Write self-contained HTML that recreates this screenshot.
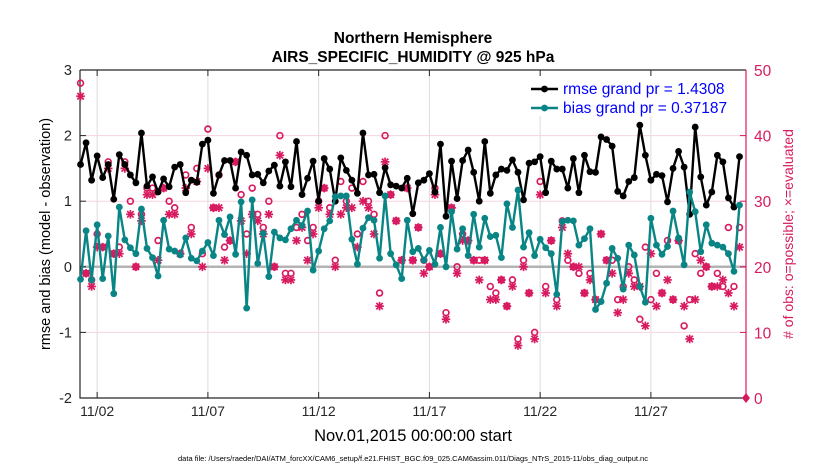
<!DOCTYPE html>
<html><head><meta charset="utf-8"><style>
body{margin:0;background:#fff;}
svg{display:block;font-family:"Liberation Sans",Arial,sans-serif;}
</style></head><body>
<svg id="chart" width="830" height="470" viewBox="0 0 830 470" xmlns="http://www.w3.org/2000/svg">
<rect width="830" height="470" fill="#fff"/>
<g id="grid"></g>
<g id="axes"></g>
<g id="obs"></g>
<g id="lines"></g>
<text x="413" y="43" text-anchor="middle" font-size="15.5" font-weight="bold">Northern Hemisphere</text>
<text x="413" y="62" text-anchor="middle" font-size="15.5" font-weight="bold">AIRS_SPECIFIC_HUMIDITY @ 925 hPa</text>
<text transform="translate(50,234) rotate(-90)" text-anchor="middle" font-size="14.5">rmse and bias (model - observation)</text>
<text transform="translate(793,234) rotate(-90)" text-anchor="middle" font-size="14" fill="#d81b60">#  of obs: o=possible; ×=evaluated</text>
<text x="413" y="441" text-anchor="middle" font-size="16.5">Nov.01,2015 00:00:00 start</text>
<text x="413" y="461" text-anchor="middle" font-size="7.5">data file: /Users/raeder/DAI/ATM_forcXX/CAM6_setup/f.e21.FHIST_BGC.f09_025.CAM6assim.011/Diags_NTrS_2015-11/obs_diag_output.nc</text>
<g id="legend"></g>
</svg>
<script>
const rmse=[1.56,1.89,1.32,1.69,1.36,1.56,1.03,1.71,1.56,1.40,1.28,2.04,1.23,1.37,1.14,1.34,1.22,1.52,1.56,1.13,1.32,1.29,1.87,1.93,1.12,1.40,1.62,1.62,1.20,1.75,1.70,1.40,
1.41,1.28,1.46,1.55,1.23,1.60,1.22,1.91,1.10,1.35,1.61,1.00,1.65,1.49,1.00,1.66,1.47,1.32,1.12,2.04,1.40,1.41,1.13,1.51,1.25,1.23,1.20,1.35,0.81,1.28,
1.32,1.42,1.14,1.87,0.77,1.61,1.04,1.62,1.78,1.44,1.00,1.91,1.12,1.40,1.49,1.47,1.63,1.44,1.02,1.58,1.60,1.68,1.13,1.61,1.49,1.49,1.20,1.65,1.13,1.70,1.45,
1.44,1.98,1.94,1.84,1.15,1.08,1.30,1.36,2.16,1.70,1.32,1.41,1.39,0.99,1.50,1.76,1.52,0.80,2.13,1.37,0.94,1.14,1.70,1.60,1.05,0.91,1.68];
const bias=[-0.19,0.55,-0.20,0.64,-0.18,0.47,-0.41,0.91,0.41,0.29,0.20,0.88,0.28,0.14,-0.14,0.71,0.27,0.24,0.18,0.44,0.13,0.09,0.24,0.37,0.17,0.71,0.49,0.76,0.19,0.99,-0.63,1.02,
0.05,0.51,-0.15,0.53,0.44,0.41,0.58,0.71,0.63,0.85,-0.05,0.24,0.58,0.70,1.07,1.08,1.08,0.42,0.04,0.59,0.75,0.71,0.13,1.08,0.20,0.03,-0.18,0.71,0.23,0.28,
0.10,0.25,0.04,0.60,0.00,0.84,0.27,0.58,0.17,0.80,0.30,0.74,0.46,0.48,0.14,0.96,0.60,1.17,0.30,0.52,0.17,0.42,0.29,0.20,-0.42,0.69,0.71,0.70,0.33,0.43,0.58,
-0.65,-0.53,-0.25,0.28,0.13,-0.34,0.33,0.18,-0.30,-0.54,0.74,0.33,0.19,0.31,0.85,0.44,0.03,1.14,0.84,0.23,0.64,0.36,0.33,0.30,0.20,-0.07,0.94];
const nEval=[46,19,17,23,23,35,22,22,35,28,20,27,31,31,21,32,28,28,22,32,25,33,20,35,29,29,21,24,36,27,22,28,
27,25,28,20,37,18,18,24,26,21,25,29,32,28,20,28,29,29,23,30,29,25,14,36,31,27,21,32,21,26,
19,20,31,22,12,29,19,24,24,21,18,21,15,15,18,14,17,8,20,16,9,31,16,24,14,26,22,20,20,16,18,
15,25,21,19,13,15,19,17,17,11,22,14,16,18,15,24,14,9,15,21,20,17,17,18,16,14,23,0];
const nPoss=[48,19,18,25,23,36,22,23,36,30,20,28,32,32,24,32,30,29,22,34,26,35,22,41,29,34,23,24,36,31,25,32,
28,26,30,20,40,19,19,26,28,24,26,30,32,29,21,33,30,32,25,33,30,28,16,40,31,27,21,32,21,26,
21,20,32,22,13,29,20,25,24,21,21,21,17,16,18,14,18,9,21,16,10,33,17,24,15,27,21,20,19,16,19,
15,25,21,21,15,17,20,18,12,23,15,19,16,24,15,24,11,15,22,19,20,17,19,17,26,17,26,0];
const xTickLabels=["11/02","11/07","11/12","11/17","11/22","11/27"];
const xTickDays=[2,7,12,17,22,27];
const yTicks=[3,2,1,0,-1,-2];
const y2Ticks=[50,40,30,20,10,0];

const L=80,R=746,T=70,B=398;
const xDay=d=>75+(d-1)*22.15;
const xIdx=i=>xDay(1.25+i*0.25);
const yL=v=>T+(3-v)*(B-T)/5;
const yR=v=>T+(50-v)*(B-T)/50;
const NS="http://www.w3.org/2000/svg";
function mk(tag,attrs,parent){const e=document.createElementNS(NS,tag);for(const k in attrs)e.setAttribute(k,attrs[k]);parent.appendChild(e);return e;}
const grid=document.getElementById('grid'),axes=document.getElementById('axes'),obs=document.getElementById('obs'),lines=document.getElementById('lines'),leg=document.getElementById('legend');

xTickDays.forEach((d,i)=>{const x=xDay(d);
 let g=mk('line',{x1:x,x2:x,y1:T,y2:B,stroke:'#dcdcdc','stroke-width':1},grid);
 
 
 let t=mk('line',{x1:x,x2:x,y1:B,y2:B-6,stroke:'#262626','stroke-width':1},axes);
 
 
 let t2=mk('line',{x1:x,x2:x,y1:T,y2:T+6,stroke:'#262626','stroke-width':1},axes);
 
 
 let lb=mk('text',{x:x,y:B+18,'text-anchor':'middle','font-size':14,fill:'#262626'},axes);lb.textContent=xTickLabels[i];
 
 
});
yTicks.forEach(v=>{const y=yL(v);
 if(v!==3&&v!==-2){let g=mk('line',{x1:L,x2:R,y1:y,y2:y,stroke:'#f6d3e2','stroke-width':1},grid);
 
 }
 let t=mk('line',{x1:L,x2:L+6,y1:y,y2:y,stroke:'#262626'},axes);
 
 
 let lb=mk('text',{x:L-8,y:y+5,'text-anchor':'end','font-size':14.5,fill:'#262626'},axes);lb.textContent=v;
 
 
});
y2Ticks.forEach(v=>{const y=yR(v);
 let t=mk('line',{x1:R-6,x2:R,y1:y,y2:y,stroke:'#d81b60'},axes);
 
 
 let lb=mk('text',{x:R+8,y:y+6,'font-size':15.5,fill:'#d81b60'},axes);lb.textContent=v;
 
 
});
let zl=mk('line',{x1:L,x2:R,y1:yL(0),y2:yL(0),stroke:'#b3b3b3','stroke-width':2.5},grid);


let ax=mk('path',{d:`M${L},${T}V${B}H${R}M${L},${T}H${R}`,fill:'none',stroke:'#262626','stroke-width':1.2},axes);


let ax2=mk('line',{x1:R,x2:R,y1:T,y2:B,stroke:'#d81b60','stroke-width':1.2},axes);



const OC='#d81b60';
function star(x,y){const g=mk('g',{stroke:OC,'stroke-width':1.7},obs);const s=4.3;
 mk('line',{x1:x-s,x2:x+s,y1:y,y2:y},g);mk('line',{x1:x,x2:x,y1:y-s,y2:y+s},g);
 mk('line',{x1:x-s*.75,x2:x+s*.75,y1:y-s*.75,y2:y+s*.75},g);mk('line',{x1:x-s*.75,x2:x+s*.75,y1:y+s*.75,y2:y-s*.75},g);return g;}
nPoss.forEach((v,i)=>{const x=i<rmse.length?xIdx(i):R;
 if(v===0)return;
 const c=mk('circle',{cx:x,cy:yR(v),r:2.9,fill:'none',stroke:OC,'stroke-width':1.7},obs);
 
 
});
nEval.forEach((v,i)=>{const x=i<rmse.length?xIdx(i):R;
 if(v===0){const d=mk('path',{d:`M${x-4},${yR(0)}L${x},${yR(0)-5}L${x+4},${yR(0)}L${x},${yR(0)+5}Z`,fill:OC},obs);
  
  return;}
 const s=star(x,yR(v));
 
 
});
function series(arr,color,name){
 const p=mk('polyline',{points:arr.map((v,i)=>xIdx(i)+','+yL(v)).join(' '),fill:'none',stroke:color,'stroke-width':2.4,'stroke-linejoin':'round'},lines);
 
 
 arr.forEach((v,i)=>{const c=mk('circle',{cx:xIdx(i),cy:yL(v),r:3.4,fill:color},lines);
  
  });
}
series(rmse,'#000','rmse');
series(bias,'#0a8585','bias');

let lbg=mk('rect',{x:530,y:76,width:214,height:40,fill:'#fff'},leg);


[['rmse grand pr = 1.4308','#000',89],['bias grand pr = 0.37187','#0a8585',108]].forEach(([t,c,y])=>{
 const g=mk('g',{},leg);
 
 
 mk('line',{x1:531,x2:558,y1:y,y2:y,stroke:c,'stroke-width':2.4},g);
 mk('circle',{cx:544.5,cy:y,r:3.4,fill:c},g);
 const tx=mk('text',{x:563,y:y+5,'font-size':15.5,fill:'#0000ff'},g);tx.textContent=t;
});
</script>
</body></html>
